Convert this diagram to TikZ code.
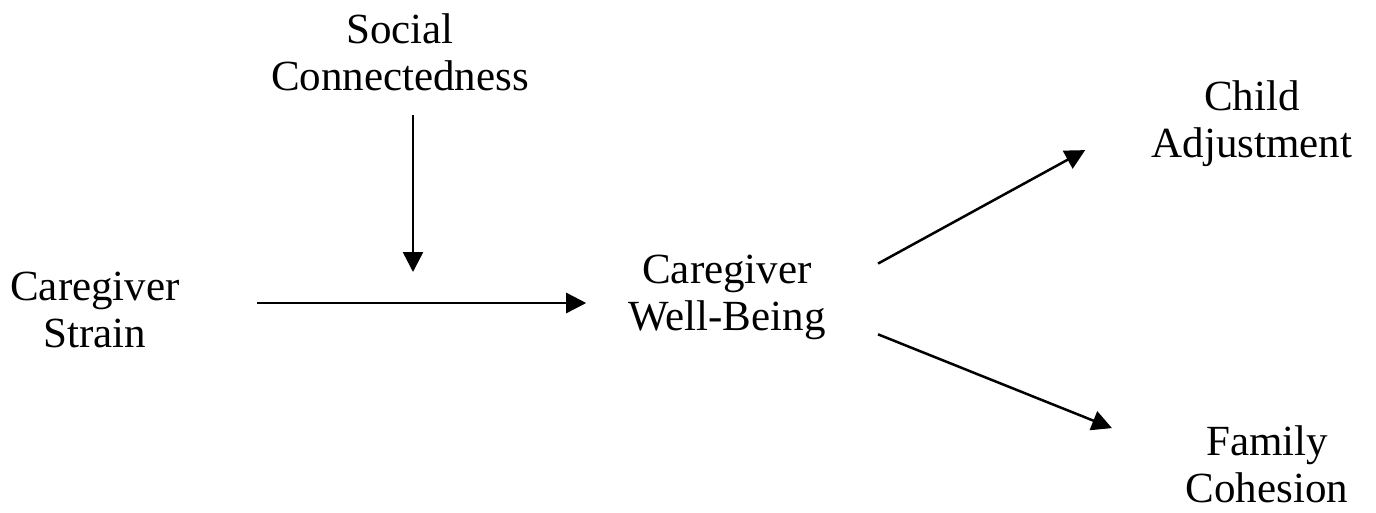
\documentclass[tikz,border=0pt]{standalone}
\usepackage{fontspec}
\setmainfont{Liberation Serif}
\usetikzlibrary{arrows.meta,positioning}

\begin{document}
\begin{tikzpicture}[x=1pt,y=-1pt,
  var/.style={align=center,inner sep=4pt,font=\fontsize{43}{47}\selectfont},
  path/.style={line width=2.5pt,-{Triangle[length=20pt,width=20pt]}}]
  \useasboundingbox (0,0) rectangle (1376,512);

  % Variables
  \node[var] (social) at (400,52) {Social\\Connectedness};
  \node[var] (strain) at (95,310) {Caregiver\\Strain};
  \node[var] (wellbeing) at (727,297) {Caregiver\\Well-Being};
  \node[var] (child) at (1252,124) {Child\\Adjustment};
  \node[var] (family) at (1267,464) {Family\\Cohesion};

  % Moderation point on the main path
  \coordinate (mod) at (413,272);

  % Paths
  \draw[path,shorten <=73pt,shorten >=38pt] ([yshift=7pt]strain.east) -- ([yshift=7pt]strain.east -| wellbeing.west);
  \draw[path,shorten <=20pt] (social.south -| mod) -- (mod);
  \draw[path,shorten <=55pt,shorten >=71pt] ([yshift=7pt]wellbeing.east) -- ([yshift=8pt]child.west);
  \draw[path,shorten <=52pt,shorten >=75pt] ([yshift=-18pt]wellbeing.east) -- ([yshift=8pt]family.west);
\end{tikzpicture}
\end{document}
